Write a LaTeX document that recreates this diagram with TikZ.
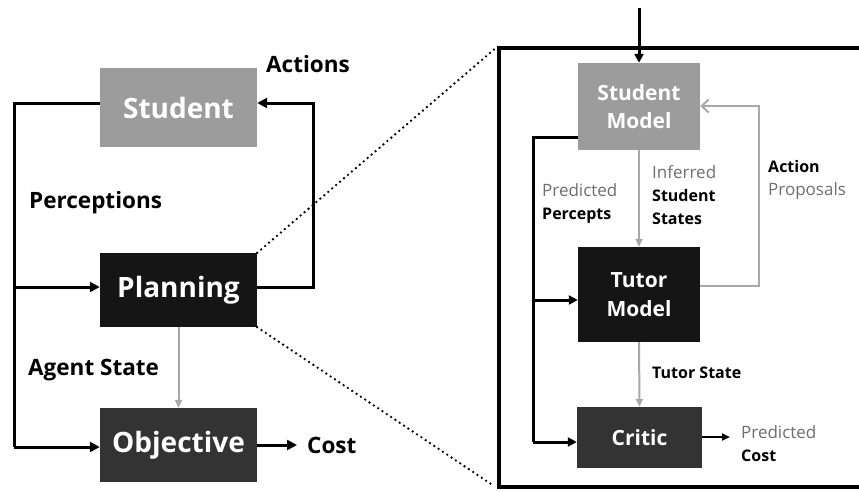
\documentclass[tikz,border=0pt]{standalone}
\usepackage{fontspec}
\setmainfont{Open Sans}
\usetikzlibrary{arrows.meta}
\definecolor{lgray}{HTML}{9C9C9C}
\definecolor{dgray}{HTML}{333333}
\definecolor{blk}{HTML}{151515}
\definecolor{agray}{HTML}{A8A8A8}
\definecolor{tgray}{HTML}{6E6E6E}
\newcommand\mybold{\fontsize{16}{23}\selectfont\bfseries}
\tikzset{
  box/.style={draw=none, text=white, font=\bfseries, align=center, inner sep=0pt},
  bigfont/.style={font=\fontsize{28}{32}\selectfont\bfseries},
  midfont/.style={font=\fontsize{21}{28.5}\selectfont\bfseries},
  lab/.style={font=\fontsize{22.5}{26}\selectfont\bfseries, text=black, inner sep=0pt},
  small/.style={font=\fontsize{17}{23}\selectfont, inner sep=0pt, align=left},
  conn/.style={line width=3pt, -{Triangle[length=10pt,width=10pt]}},
  connp/.style={line width=3pt},
  gconn/.style={line width=2pt, draw=agray, -{Triangle[length=8pt,width=7pt]}, color=agray},
  dots/.style={line width=2.6pt, line cap=round, dash pattern=on 0pt off 5.2pt}
}
\begin{document}
\begin{tikzpicture}[x=1pt,y=-1pt]
\useasboundingbox (0,0) rectangle (859,491);
% left boxes
\node[box, bigfont, fill=lgray, minimum width=157pt, minimum height=79pt] (stu) at (178.5,107.5) {Student};
\node[box, bigfont, fill=blk, minimum width=157pt, minimum height=74pt] (plan) at (178.5,290) {Planning};
\node[box, bigfont, fill=dgray, minimum width=157pt, minimum height=74pt] (obj) at (178.5,445) {Objective};
% labels
\node[lab, anchor=west] (act) at (266,64) {Actions};
\node[lab, anchor=west] (perc) at (29,203) {Perceptions};
\node[lab, anchor=west] (ags) at (28,370) {Agent State};
\node[lab, anchor=west] (cost) at (307,445) {Cost};
% left connectors
\coordinate (lt) at (14,103);
\coordinate (rt) at (313,103);
\draw[connp] (stu.west |- lt) -- (lt) -- (14,447) coordinate (lb);
\draw[conn] (14,287) -- (plan.west |- 0,287);
\draw[conn] (lb) -- (obj.west |- lb);
\draw[conn] (plan.east |- 0,287) -- (313,287) -- (rt) -- (stu.east |- rt);
\draw[gconn] (plan.south) -- (obj.north);
\draw[conn, shorten >=10pt] (obj.east |- 0,445) -- (cost.west);
% big box
\draw[line width=4pt] (862,48) -- (499,48) -- (499,487) -- (862,487);
% dotted
\draw[dots] (plan.north east) -- (494,49.5);
\draw[dots] (plan.south east) -- (494,486);
% right boxes
\node[box, midfont, fill=lgray, minimum width=122pt, minimum height=87pt] (sm) at (639,106.5) {Student\\Model};
\node[box, midfont, fill=blk, minimum width=122pt, minimum height=95pt] (tm) at (639,294.5) {Tutor\\Model};
\node[box, midfont, fill=dgray, minimum width=125pt, minimum height=61pt] (cr) at (639.5,437.5) {Critic};
\coordinate (top) at (639,8);
\draw[line width=3pt, -{Triangle[length=9pt,width=9pt]}] (top) -- (sm.north);
\coordinate (ilt) at (533,137);
\draw[connp] (sm.west |- ilt) -- (ilt) -- (533,442) coordinate (ilb);
\draw[line width=3pt, -{Triangle[length=9pt,width=9pt]}] (533,300) -- (tm.west |- 0,300);
\draw[line width=3pt, -{Triangle[length=9pt,width=9pt]}] (ilb) -- (cr.west |- ilb);
\draw[gconn] (sm.south) -- (tm.north);
\draw[gconn] (tm.south) -- (cr.north);
\coordinate (apb) at (759,286);
\coordinate (apt) at (759,106);
\draw[line width=2pt, draw=agray, -{Straight Barb[length=7pt,width=13pt,line width=2pt]}] (tm.east |- apb) -- (apb) -- (apt) -- (sm.east |- apt);
% right labels
\node[small, anchor=north west] (pp) at (542,183) {\textcolor{tgray}{Predicted}\\{\mybold Percepts}};
\node[small, anchor=north west] (iss) at (652,165) {\textcolor{tgray}{Inferred}\\{\mybold Student}\\{\mybold States}};
\node[small, anchor=north west] (apl) at (768,160) {{\mybold Action}\\\textcolor{tgray}{Proposals}};
\node[small, anchor=west, font=\mybold] (ts) at (652,373) {Tutor State};
\node[small, anchor=north west] (pc) at (741,425) {\textcolor{tgray}{Predicted}\\{\mybold Cost}};
\draw[line width=2.2pt, -{Triangle[length=8pt,width=7pt]}] (cr.east |- 0,437) -- (730,437);
\end{tikzpicture}
\end{document}
